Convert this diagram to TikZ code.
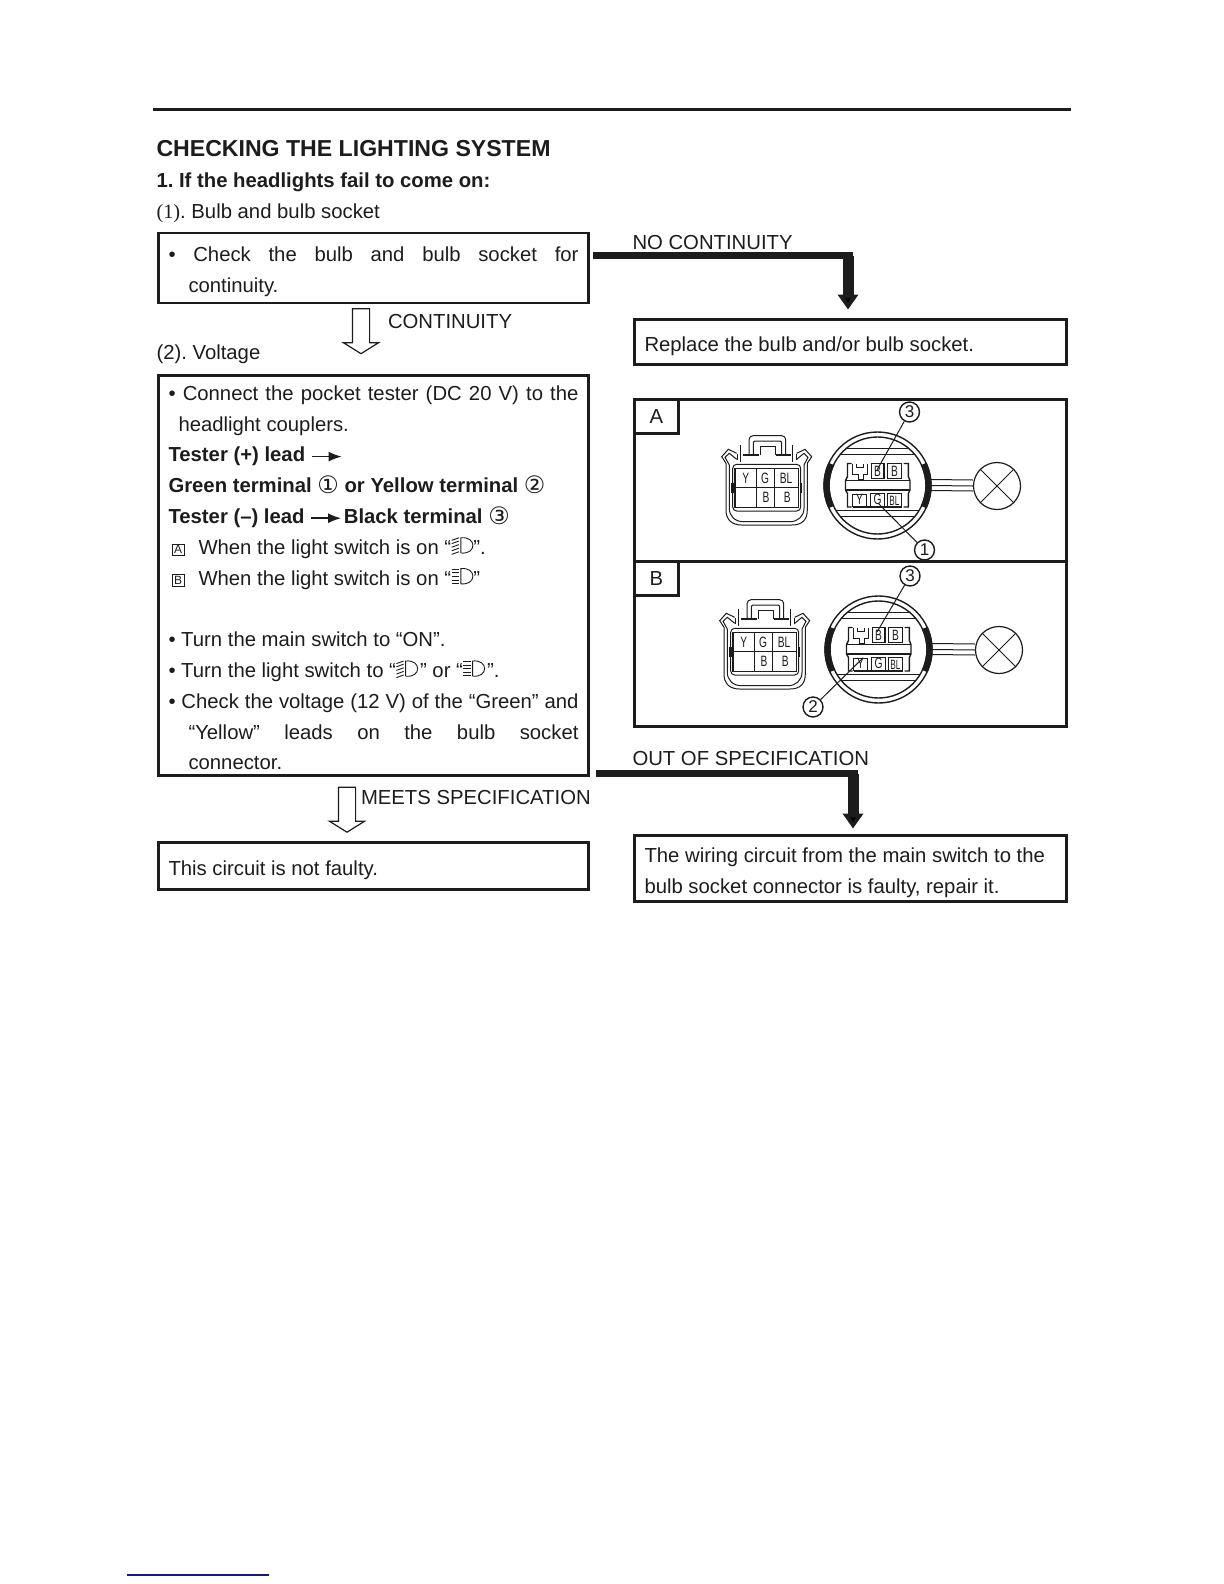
\documentclass[tikz,border=0pt]{standalone}
\usepackage{fontspec}
\setmainfont{Liberation Sans}
\newfontfamily\serifnum{Liberation Serif}
\newfontfamily\symbfont{DejaVu Sans}
\usetikzlibrary{arrows.meta,positioning,shapes.arrows}
\definecolor{inkc}{HTML}{1C1C1C}
\definecolor{rulec}{HTML}{14148C}
\frenchspacing

\newcommand{\circnum}[1]{{\mdseries\symbfont\fontsize{12}{15.4}\selectfont\raisebox{-.6pt}{#1}}}
\newcommand{\leadarrow}{\tikz[baseline=-2.6pt]{\draw[line width=.8pt,-{Latex[length=6.5pt,width=5pt]}] (0pt,0pt) -- (15pt,0pt);}}
\newcommand{\boxedlet}[1]{\raisebox{.2pt}{\setlength\fboxsep{.6pt}\setlength\fboxrule{.35pt}\fbox{\makebox[4.6pt]{\fontsize{6}{6}\selectfont #1}}}}
\newcommand{\lowbeam}{\tikz[baseline=-.6pt,x=1pt,y=1pt,line width=.45pt]{
  \draw (5,0) -- (5,7.6) .. controls (9,8) and (11,6) .. (11,3.8) .. controls (11,1.6) and (9,-.4) .. (5,0);
  \foreach \ly in {0.6,2.4,4.2,6,7.6} \draw (0.4,\ly-1.3) -- (4,\ly);}}
\newcommand{\highbeam}{\tikz[baseline=-.6pt,x=1pt,y=1pt,line width=.45pt]{
  \draw (5,0) -- (5,7.6) .. controls (9,8) and (11,6) .. (11,3.8) .. controls (11,1.6) and (9,-.4) .. (5,0);
  \foreach \ly in {0.2,1.9,3.7,5.5,7.3} \draw (0.4,\ly) -- (4,\ly);}}

\tikzset{
  coupler/.pic={
    \draw (-30.3,-26.7) -- (-38.7,-30.7) -- (-45.3,-23.3) -- (-41,-16.7) -- (-41,30) .. controls (-41,40) and (-35,45) .. (-25.3,45)
      -- (24.7,45) .. controls (35,45) and (40.3,40) .. (40.3,30) -- (40.3,-16.7) -- (44.7,-23.3) -- (38,-30.7) -- (29.7,-26.7);
    \draw (-30.3,-20.7) -- (-37.7,-26.7) -- (-42,-22.7) -- (-37.7,-15) -- (-37.7,28.3) .. controls (-37.7,36) and (-32,41.7) .. (-23.7,41.7)
      -- (23,41.7) .. controls (31,41.7) and (37,36) .. (37,28.3) -- (37,-15) -- (41,-22.7) -- (37,-26.7) -- (29.7,-20.7);
    \draw[rounded corners=2pt] (-18,-25) -- (-18,-44.3) -- (18.7,-44.3) -- (18.7,-25);
    \draw[rounded corners=1pt] (-13.7,-25) -- (-13.7,-39) -- (14.7,-39) -- (14.7,-25);
    \draw (-7,-25) -- (-7,-34) -- (8,-34) -- (8,-25);
    \draw[line width=1.1pt] (-23.7,-25) -- (-8,-25) (8.7,-25) -- (23.7,-25);
    \draw (-27,-35) -- (-27,-18) (25.3,-35) -- (25.3,-18);
    \draw (-30,-20) -- (-30,-26) (29,-20) -- (29,-26);
    \draw[rounded corners=2pt] (-34.3,-15.7) rectangle (33.7,31);
    \draw[line width=.7pt] (-32,-11.7) rectangle (31.3,27.3);
    \draw[line width=.7pt] (-10.3,-11.7) -- (-10.3,27.3) (7.3,-11.7) -- (7.3,27.3) (-32,7.7) -- (31.3,7.7);
    \draw[line width=1.2pt] (-34.5,3.3) -- (-34.5,13.3) (33.7,3.3) -- (33.7,13.3);
    \node[pinchar] (-y) at (-21.3,-1.5) {\scalebox{.68}[1]{Y}};
    \node[pinchar] (-g) at (-2,-1.5) {\scalebox{.68}[1]{G}};
    \node[pinchar] (-bl) at (19,-1.5) {\scalebox{.68}[1]{BL}};
    \node[pinchar] (-bb) at (-1,17.5) {\scalebox{.68}[1]{B}};
    \node[pinchar] (-bc) at (20.3,17.5) {\scalebox{.68}[1]{B}};
  },
  socket/.pic={
    \draw[line width=.7pt] (0,0) circle[radius=53.5];
    \draw[line width=.7pt] (0,0) circle[radius=48.5];
    % black tabs
    \draw[line width=3.2pt] (155:51) arc[start angle=155,end angle=205,radius=51];
    \draw[line width=3.2pt] (-25:51) arc[start angle=-25,end angle=25,radius=51];
    \draw (-31.4,-37) -- (31.4,-37) (-37.3,-31) -- (37.3,-31) (-41.9,24.5) -- (41.9,24.5) (-37.3,31) -- (37.3,31);
    \draw[line width=.7pt] (-26,-22) -- (-30,-22) -- (-30,-9) -- (-32,-5) -- (-32,4.5) -- (-30,8) -- (-30,21.5) -- (-26,21.5);
    \draw[line width=.7pt] (26,-22) -- (30.8,-22) -- (30.8,-9) -- (32.5,-5) -- (32.5,4.5) -- (30.8,8) -- (30.8,21.5) -- (26,21.5);
    \draw[line width=.7pt] (-32,-5) -- (32.5,-5) (-32,4.5) -- (32.5,4.5);
    \draw[line width=.7pt] (-25,-22) -- (-25,-11) -- (-19,-11) -- (-19,-6) -- (-14,-6) -- (-14,-11) -- (-10,-11) -- (-10,-22);
    \draw (-21,-22) -- (-21,-18) -- (-14,-18) -- (-14,-22);
    \draw[line width=.7pt] (-6,-22) rectangle (6.5,-7) (10,-22) rectangle (24,-7);
    \draw[line width=.7pt] (-25,21.5) -- (-25,9) -- (-11,9) -- (-11,21.5);
    \draw[line width=.7pt] (-7,21.5) -- (-7,8) -- (7,8) -- (7,21.5) (10,21.5) -- (10,8) -- (24,8) -- (24,21.5);
    \draw[line width=.7pt] (-25,21.5) -- (24,21.5);
    \node[pinchar] (-b) at (0,-14.5) {\scalebox{.68}[1]{B}};
    \node[pinchar] (-c) at (17,-14.5) {\scalebox{.68}[1]{B}};
    \node[pinchar] (-y) at (-18,14) {\scalebox{.68}[1]{Y}};
    \node[pinchar] (-g) at (0,13.5) {\scalebox{.68}[1]{G}};
    \node[pinchar] (-bl) at (17,15) {\scalebox{.55}[.9]{BL}};
    \coordinate (-east) at (53.5,0);
  }
}

\begin{document}
\begin{tikzpicture}[x=.5pt,y=-.5pt,font=\fontsize{10.15}{15.4}\selectfont,text=inkc,draw=inkc,line width=.5pt,
  textline/.style={anchor=base west,inner sep=0pt,outer sep=0pt},
  boxnode/.style={draw=inkc,line width=1.4pt,outer sep=0pt,inner xsep=5pt,inner ysep=0pt,anchor=north west,text width=205pt,align=flush left,minimum height=#1,execute at begin node={\rule{0pt}{11.5pt}}},
  panel/.style={draw=inkc,line width=1.4pt,outer sep=0pt,inner sep=0pt,anchor=north west,minimum width=216pt,minimum height=#1},
  tagbox/.style={draw=inkc,line width=1.4pt,outer sep=0pt,inner sep=0pt,anchor=north west,minimum width=22pt,minimum height=17pt},
  blockdown/.style={draw=inkc,line width=.6pt,fill=white,single arrow,shape border rotate=270,inner sep=4pt,outer sep=0pt,
    minimum width=17pt,single arrow head extend=4.5pt,single arrow tip angle=116,minimum height=#1},
  flowbar/.style={draw=inkc,line width=3.5pt},
  flowdown/.style={draw=inkc,line width=5.5pt,-{Triangle[width=10pt,length=7.5pt]},shorten >=5pt},
  pinchar/.style={font=\fontsize{7.5}{8}\selectfont,inner sep=0pt},
  pinlabel/.style={draw=inkc,circle,line width=.7pt,inner sep=0pt,minimum size=10pt,font=\fontsize{8.5}{9}\selectfont},
  lamp/.style={draw=inkc,circle,line width=.6pt,inner sep=0pt,minimum size=23.5pt},
  leader/.style={line width=.5pt}]
  \useasboundingbox (0,0) rectangle (1224,1584);
  \draw[line width=1.5pt] (153,110) -- (1071,110);
  \draw[draw=rulec,line width=.8pt] (127,1575) -- (269,1575);

  \node[textline,font=\fontsize{11.55}{14}\bfseries\selectfont] (title) at (156.5,156.5) {CHECKING THE LIGHTING SYSTEM};
  \node[textline,font=\fontsize{10.15}{14}\bfseries\selectfont] (subtitle) at (156.5,187) {1. If the headlights fail to come on:};
  \node[textline] (firstpart) at (156.5,218) {{\serifnum (1)}. Bulb and bulb socket};
  \node[textline] (secondpart) at (156.5,359) {(2). Voltage};

  % left column
  \node[boxnode=35pt] (check) at (158.5,233) {\makebox[205pt][s]{• Check the bulb and bulb socket for}\\\hspace*{10pt}continuity.};
  \node[boxnode=200pt,below right=36.25pt and 0pt of check.south west] (voltage) {%
    \makebox[205pt][s]{• Connect the pocket tester (DC 20 V) to the}\\
    \hspace*{5pt}headlight couplers.\\
    \textbf{Tester (+) lead \leadarrow}\\
    \textbf{Green terminal \circnum{①} or Yellow terminal \circnum{②}}\\
    \textbf{Tester (–) lead \leadarrow\hspace{1pt}Black terminal \circnum{③}}\\
    \hspace*{1.5pt}\boxedlet{A}\hspace{7pt}When the light switch is on “\lowbeam”.\\
    \hspace*{1.5pt}\boxedlet{B}\hspace{7pt}When the light switch is on “\highbeam”\\
    ~\\
    • Turn the main switch to “ON”.\\
    • Turn the light switch to “\lowbeam\hspace{1pt}” or “\highbeam\hspace{1pt}”.\\
    \makebox[205pt][s]{• Check the voltage (12 V) of the “Green” and}\\
    \hspace*{10pt}\makebox[195pt][s]{“Yellow” leads on the bulb socket}\\
    \hspace*{10pt}connector.\rule[-2pt]{0pt}{1pt}};
  \node[boxnode=23.5pt,below right=33.5pt and 0pt of voltage.south west] (okbox) {This circuit is not faulty.};

  \node[blockdown=22.5pt] (contarrow) at (361,328.5) {};
  \node[textline] (contlabel) at (388,328) {CONTINUITY};
  \node[blockdown=22.5pt] (specarrow) at (347,807) {};
  \node[textline] (speclabel) at (361,804) {MEETS SPECIFICATION};

  % right column
  \node[boxnode=22.5pt,text width=206pt] (replace) at (634.5,319.5) {Replace the bulb and/or bulb socket.};
  \node[panel=81pt,below right=17.5pt and 0pt of replace.south west] (panelA) {};
  \node[panel=82.5pt,below right=0pt and 0pt of panelA.south west] (panelB) {};
  \node[boxnode=33pt,text width=206pt,below right=54.5pt and 0pt of panelB.south west] (failbox) {The wiring circuit from the main switch to the\\bulb socket connector is faulty, repair it.};
  \node[tagbox] (tagA) at (panelA.north west) {A};
  \node[tagbox] (tagB) at (panelB.north west) {B};

  \node[textline] (nolabel) at (632.5,249) {NO CONTINUITY};
  \node[textline] (outlabel) at (632.5,765) {OUT OF SPECIFICATION};

  \coordinate (nobend) at (848,255.5);
  \draw[flowbar,shorten <=2pt] (check.east |- nobend) -- ([xshift=2.5pt]nobend);
  \draw[flowdown] (nobend) -- (nobend |- replace.north);
  \coordinate (outbend) at (853,773.5);
  \draw[flowbar,shorten <=3.75pt] (voltage.east |- outbend) -- ([xshift=2.5pt]outbend);
  \draw[flowdown,shorten >=3.5pt] (outbend) -- (outbend |- failbox.north);

  % wiring views
  \pic (coupA) at (767,480) {coupler};
  \pic (coupB) at (765,644) {coupler};
  \pic (sockA) at (877.5,485.5) {socket};
  \pic (sockB) at (878.5,649.5) {socket};
  \node[lamp] (lampA) at (997,486) {};
  \node[lamp] (lampB) at (999,650) {};
  \foreach \lname in {A,B} {
    \draw (lamp\lname.45) -- (lamp\lname.225) (lamp\lname.135) -- (lamp\lname.315);
    \draw (sock\lname-east) -- (lamp\lname.west);
    \draw ([yshift=3pt]sock\lname-east) -- ([yshift=3pt]lamp\lname.west);
    \draw ([yshift=-2.5pt]sock\lname-east) -- ([yshift=-2.5pt]lamp\lname.west);
  }
  \node[pinlabel,fill=white] (threeA) at (909.5,412) {3};
  \node[pinlabel,fill=white] (oneA) at (924.5,550) {1};
  \node[pinlabel,fill=white] (threeB) at (910,576) {3};
  \node[pinlabel,fill=white] (twoB) at (813,707) {2};
  \coordinate (pinthreeA) at (877,470);
  \coordinate (pinoneA) at (878,503);
  \coordinate (pinthreeB) at (877,632);
  \coordinate (pintwoB) at (863,658);
  \draw[leader] (threeA) -- (pinthreeA);
  \draw[leader] (oneA) -- (pinoneA);
  \draw[leader] (threeB) -- (pinthreeB);
  \draw[leader] (twoB) -- (pintwoB);
\end{tikzpicture}
\end{document}
